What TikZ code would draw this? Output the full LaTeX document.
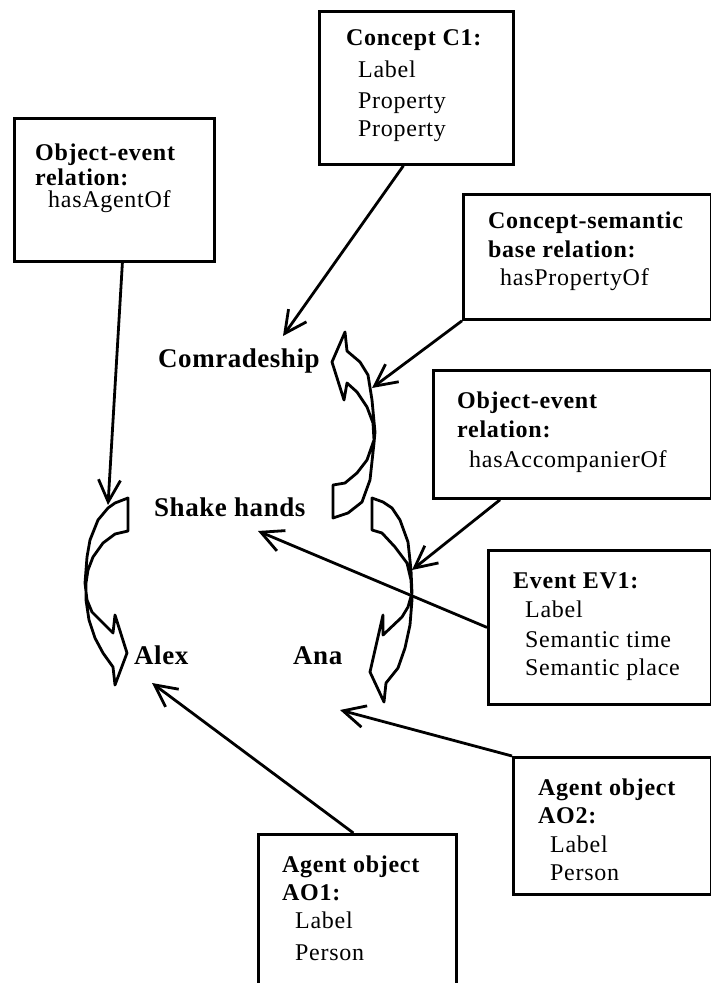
\documentclass[tikz,border=0pt]{standalone}
\usepackage{fontspec}
\setmainfont{Liberation Serif}
\newfontfamily\boxfnt[LetterSpace=3]{Liberation Serif}
\newfontfamily\lblfnt[LetterSpace=2]{Liberation Serif}
\usetikzlibrary{arrows.meta}
\begin{document}
\begin{tikzpicture}[x=1pt,y=-1pt,
 box/.style={draw, line width=2.8pt, inner sep=0pt, anchor=north west},
 hd/.style={font=\boxfnt\fontsize{24}{28}\selectfont\bfseries, anchor=base west, inner sep=0pt},
 bd/.style={font=\boxfnt\fontsize{24}{28}\selectfont, anchor=base west, inner sep=0pt},
 lbl/.style={font=\lblfnt\fontsize{27}{32}\selectfont\bfseries, anchor=base west, inner sep=0pt},
 conn/.style={line width=2.8pt, -{Straight Barb[length=22pt,width=22pt]}},
 barrow/.style={line width=2.8pt, line join=round}
]
\useasboundingbox (0,0) rectangle (711,983);
\clip (0,0) rectangle (711,983);

% boxes
\node[box, minimum width=194pt, minimum height=153pt] (c1) at (318,10) {};
\node[box, minimum width=200pt, minimum height=143pt] (ag) at (13,117) {};
\node[box, minimum width=248pt, minimum height=125pt] (pr) at (462,193) {};
\node[box, minimum width=278pt, minimum height=128pt] (ac) at (432,369) {};
\node[box, minimum width=223pt, minimum height=154pt] (ev) at (487,549) {};
\node[box, minimum width=198pt, minimum height=137pt] (a2) at (512,756) {};
\node[box, minimum width=198pt, minimum height=180pt] (a1) at (257,833) {};

% box texts
\node[hd] (c1t1) at (346,45) {Concept C1:};
\node[bd] (c1t2) at (358,77) {Label};
\node[bd] (c1t3) at (358,108) {Property};
\node[bd] (c1t4) at (358,136) {Property};

\node[hd] (agt1) at (35,160) {Object-event};
\node[hd] (agt2) at (35,185) {relation:};
\node[bd] (agt3) at (48,207) {hasAgentOf};

\node[hd] (prt1) at (488,228) {Concept-semantic};
\node[hd] (prt2) at (488,257) {base relation:};
\node[bd] (prt3) at (500,285) {hasPropertyOf};

\node[hd] (act1) at (457,408) {Object-event};
\node[hd] (act2) at (457,437) {relation:};
\node[bd] (act3) at (469,467) {hasAccompanierOf};

\node[hd] (evt1) at (513,588) {Event EV1:};
\node[bd] (evt2) at (525,617) {Label};
\node[bd] (evt3) at (525,647) {Semantic time};
\node[bd] (evt4) at (525,675) {Semantic place};

\node[hd] (a2t1) at (538,795) {Agent object};
\node[hd] (a2t2) at (538,823) {AO2:};
\node[bd] (a2t3) at (550,852) {Label};
\node[bd] (a2t4) at (550,880) {Person};

\node[hd] (a1t1) at (282,872) {Agent object};
\node[hd] (a1t2) at (282,900) {AO1:};
\node[bd] (a1t3) at (295,928) {Label};
\node[bd] (a1t4) at (295,960) {Person};

% labels
\node[lbl] (comrade) at (158,367) {Comradeship};
\node[lbl] (shake) at (154,516) {Shake hands};
\node[lbl] (alex) at (134,664) {Alex};
\node[lbl] (ana) at (293,664) {Ana};

% block (curved) arrows
\draw[barrow] (333,485) -- (345,483) -- (357,473) -- (367,460) -- (374,440) -- (373,423) -- (367,407) -- (357,392) -- (347,383)
  -- (344,400) -- (332,362) -- (345,332) -- (347,351) -- (360,362) -- (368,375) -- (372,400) -- (375,432) -- (374,443)
  -- (370,480) -- (362,502) -- (348,513) -- (333,518) -- cycle;
\draw[barrow] (128,498) -- (115,503) -- (108,508) -- (98,520) -- (90,540) -- (87,557) -- (85,583) -- (87,600) -- (92,612)
  -- (100,620) -- (113,633) -- (115,615) -- (127,653) -- (115,685) -- (113,667) -- (103,653) -- (95,638) -- (89,620)
  -- (86,600) -- (86,583) -- (88,570) -- (93,557) -- (103,543) -- (115,534) -- (128,531) -- cycle;
\draw[barrow] (372,498) -- (383,502) -- (392,508) -- (400,520) -- (408,542) -- (411,570) -- (412,593) -- (408,607)
  -- (402,617) -- (383,635) -- (383,615) -- (370,672) -- (384,702) -- (386,683) -- (398,668) -- (405,648) -- (410,625)
  -- (412,600) -- (411,580) -- (407,563) -- (395,547) -- (382,533) -- (372,530) -- cycle;

% connectors
\coordinate (tC) at (283,336);
\coordinate (tA) at (108,505);
\coordinate (tP) at (372,388);
\coordinate (tAc) at (412,570);
\coordinate (tE) at (258,531);
\coordinate (tA2) at (340,710);
\coordinate (tA1) at (152,683);
\draw[conn] ([xshift=-13pt]c1.south) -- (tC);
\draw[conn] ([xshift=8pt]ag.south) -- (tA);
\draw[conn] (pr.south west) -- (tP);
\draw[conn] ([xshift=68pt]ac.south west) -- (tAc);
\draw[conn] (ev.west) -- (tE);
\draw[conn] (a2.north west) -- (tA2);
\draw[conn] ([xshift=-4pt]a1.north) -- (tA1);
\end{tikzpicture}
\end{document}
